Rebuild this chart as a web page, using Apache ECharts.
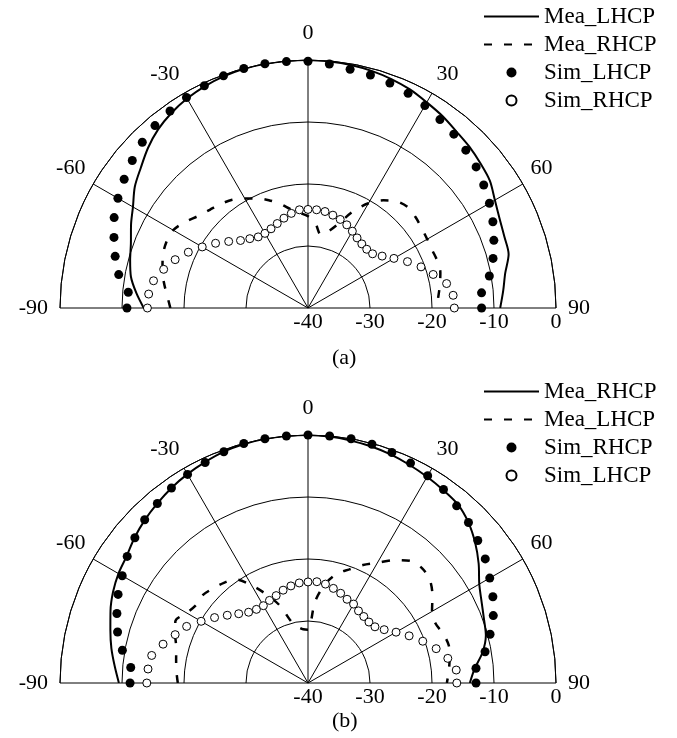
<!DOCTYPE html>
<html><head><meta charset="utf-8">
<script src="https://cdn.jsdelivr.net/npm/echarts@6/dist/echarts.min.js"></script>
<style>
html,body{margin:0;padding:0;background:#fff;}
#ca{position:absolute;left:0;top:0;width:677px;height:375px;}
#cb{position:absolute;left:0;top:375px;width:677px;height:363px;}
</style>
</head><body>
<div id="ca"></div><div id="cb"></div>
<script>
// angles (deg) of every sample
const angles = [-90,-85,-80,-75,-70,-65,-60,-55,-50,-45,-40,-35,-30,-25,-20,-15,-10,-5,0,5,10,15,20,25,30,35,40,45,50,55,60,65,70,75,80,85,90];
const angleMin = -90, angleMax = 90, angleStep = 30;
const radiusMin = -40, radiusMax = 0, radiusStep = 10;

// (a)
const a_names = ['Mea_LHCP','Mea_RHCP','Sim_LHCP','Sim_RHCP'];
const a_meaSolid = [-13.5,-12.2,-11.0,-10.3,-9.6,-8.5,-7.4,-5.9,-4.8,-3.5,-2.4,-1.6,-1.0,-0.55,-0.25,-0.05,0,0,0,-0.1,-0.2,-0.4,-0.7,-1.1,-1.7,-2.2,-2.8,-3.2,-3.7,-4.2,-5.2,-5.9,-6.3,-6.5,-7.7,-8.4,-9.0];
const a_meaDash = [-17.8,-17.2,-16.4,-15.7,-15.1,-14.8,-14.9,-15.8,-16.9,-17.6,-18.1,-18.7,-19.6,-20.5,-21.5,-22.6,-23.8,-24.6,-25.2,-26.3,-28.0,-27.2,-25.5,-22.8,-20.5,-18.8,-17.6,-17.1,-17.3,-17.6,-17.8,-17.9,-17.8,-17.9,-18.4,-18.9,-19.3];
const a_simFilled = [-10.8,-10.9,-9.0,-7.8,-6.7,-5.5,-4.6,-3.8,-3.0,-2.2,-1.6,-1.2,-0.8,-0.45,-0.15,0,0,-0.1,-0.2,-0.5,-0.9,-1.1,-1.4,-1.8,-2.3,-2.9,-3.4,-4.0,-4.6,-5.4,-6.2,-7.1,-8.1,-9.1,-10.3,-11.9,-12.0];
const a_simOpen = [-14.1,-14.2,-14.7,-15.9,-17.2,-18.7,-20.3,-21.8,-23.3,-24.6,-25.4,-26.0,-26.1,-25.9,-25.5,-25.0,-24.5,-24.1,-24.1,-24.1,-24.2,-24.5,-24.8,-25.2,-25.7,-26.2,-26.5,-26.6,-26.4,-25.4,-24.0,-22.3,-20.6,-19.1,-17.3,-16.5,-16.4];

// (b)
const b_names = ['Mea_RHCP','Mea_LHCP','Sim_RHCP','Sim_LHCP'];
const b_meaSolid = [-9.5,-8.7,-7.8,-7.0,-6.1,-5.3,-4.7,-4.3,-3.5,-2.8,-2.2,-1.6,-1.1,-0.7,-0.3,-0.1,0,0,0,-0.1,-0.3,-0.5,-0.8,-1.2,-1.6,-2.0,-2.4,-3.4,-4.8,-6.4,-8.1,-9.1,-9.8,-10.3,-11.4,-13.0,-13.9];
const b_meaDash = [-19.0,-18.7,-18.4,-18.0,-17.2,-16.4,-17.4,-18.0,-17.9,-18.4,-18.9,-19.6,-21.8,-24.3,-26.7,-29.8,-30.8,-31.3,-31.4,-26.8,-23.7,-21.7,-20.5,-19.0,-17.6,-15.8,-14.3,-13.9,-14.3,-15.5,-16.9,-17.3,-16.8,-16.5,-16.8,-17.2,-17.6];
const b_simFilled = [-11.3,-11.3,-9.6,-8.2,-7.2,-6.2,-5.4,-4.4,-3.55,-2.75,-2.2,-1.6,-1.15,-0.75,-0.3,0,0,0,0,0,0,-0.13,-0.44,-0.87,-1.4,-1.9,-2.7,-3.4,-4.25,-5.1,-6.15,-7.1,-8.2,-9.6,-11.0,-12.8,-12.9];
const b_simOpen = [-14.0,-14.1,-14.4,-15.8,-17.2,-18.4,-20.1,-21.6,-23.0,-24.2,-25.1,-25.5,-25.6,-25.3,-25.0,-24.5,-24.1,-23.8,-23.7,-23.6,-23.8,-24.2,-24.6,-25.1,-25.3,-25.8,-26.0,-26.1,-25.9,-25.0,-23.6,-22.0,-20.3,-18.6,-17.1,-16.0,-16.0];

const FONT = 'Liberation Serif, Times New Roman, serif';
const CENTER = [308, 308];
const R = 248;

function pairs(vals) { return vals.map((v, i) => [v, angles[i]]); }

function build(names, solid, dash, filled, open, caption, captionTop) {
  const hidden = { color: 'rgba(0,0,0,0)', borderColor: 'rgba(0,0,0,0)', borderWidth: 0 };
  return {
    animation: false,
    backgroundColor: '#fff',
    title: {
      text: caption, left: 332, top: captionTop, padding: 0,
      textStyle: { fontFamily: FONT, fontSize: 22, fontWeight: 'normal', color: '#000' }
    },
    legend: {
      orient: 'vertical', left: 483, top: 5, padding: 0,
      itemWidth: 55, itemHeight: 10, itemGap: 5, selectedMode: false,
      textStyle: { fontFamily: FONT, fontSize: 23, lineHeight: 23, color: '#000' },
      data: names
    },
    polar: [
      { center: CENTER, radius: R },
      { center: CENTER, radius: R }
    ],
    angleAxis: [
      {
        polarIndex: 0, type: 'value', startAngle: 180, endAngle: 0,
        min: angleMin, max: angleMax, interval: angleStep,
        axisLine: { show: true, lineStyle: { color: '#000', width: 1 } },
        axisTick: { show: false },
        splitLine: { show: true, lineStyle: { color: '#000', width: 1 } },
        axisLabel: {
          margin: 9, color: '#000', fontFamily: FONT, fontSize: 22,
          formatter: function (v) {
            if (v === 0) return '{t|0}';
            if (v === 90 || v === -90) return '{h|' + v + '}';
            return '{n|' + v + '}';
          },
          rich: {
            t: { fontFamily: FONT, fontSize: 22, color: '#000', padding: [0, 0, 7, 0] },
            h: { fontFamily: FONT, fontSize: 22, color: '#000', padding: [0, 3, 0, 3] },
            n: { fontFamily: FONT, fontSize: 22, color: '#000' }
          }
        }
      },
      {
        polarIndex: 1, type: 'value', startAngle: 0, endAngle: 180,
        min: angleMin, max: angleMax, interval: angleStep, show: false
      }
    ],
    radiusAxis: [
      {
        polarIndex: 0, type: 'value', min: radiusMin, max: radiusMax, interval: radiusStep,
        axisLine: { show: false }, axisTick: { show: false }, axisLabel: { show: false },
        splitLine: { show: true, lineStyle: { color: '#000', width: 1 } }
      },
      {
        polarIndex: 1, type: 'value', min: radiusMin, max: radiusMax, interval: radiusStep,
        axisLine: { show: false }, axisTick: { show: false }, splitLine: { show: false },
        axisLabel: { show: true, margin: -25, color: '#000', fontFamily: FONT, fontSize: 22,
          showMinLabel: true, showMaxLabel: true }
      }
    ],
    series: [
      {
        name: names[0], type: 'line', coordinateSystem: 'polar', polarIndex: 0,
        data: pairs(solid), symbol: 'none', smooth: 0.3, z: 3,
        itemStyle: hidden,
        lineStyle: { color: '#000', width: 2 }
      },
      {
        name: names[1], type: 'line', coordinateSystem: 'polar', polarIndex: 0,
        data: pairs(dash), symbol: 'none', smooth: 0.3, z: 3,
        itemStyle: hidden,
        lineStyle: { color: '#000', width: 2.5, type: [8, 12] }
      },
      {
        name: names[2], type: 'scatter', coordinateSystem: 'polar', polarIndex: 0,
        data: pairs(filled), symbol: 'circle', symbolSize: 9, z: 4,
        itemStyle: { color: '#000', opacity: 1 }
      },
      {
        name: names[3], type: 'scatter', coordinateSystem: 'polar', polarIndex: 0,
        data: pairs(open), symbol: 'circle', symbolSize: 8, z: 4,
        itemStyle: { color: '#fff', borderColor: '#000', borderWidth: 1, opacity: 1 }
      }
    ]
  };
}

const ca = echarts.init(document.getElementById('ca'), null, { renderer: 'canvas' });
ca.setOption(build(a_names, a_meaSolid, a_meaDash, a_simFilled, a_simOpen, '(a)', 347));
const cb = echarts.init(document.getElementById('cb'), null, { renderer: 'canvas' });
cb.setOption(build(b_names, b_meaSolid, b_meaDash, b_simFilled, b_simOpen, '(b)', 335));
</script>
</body></html>
